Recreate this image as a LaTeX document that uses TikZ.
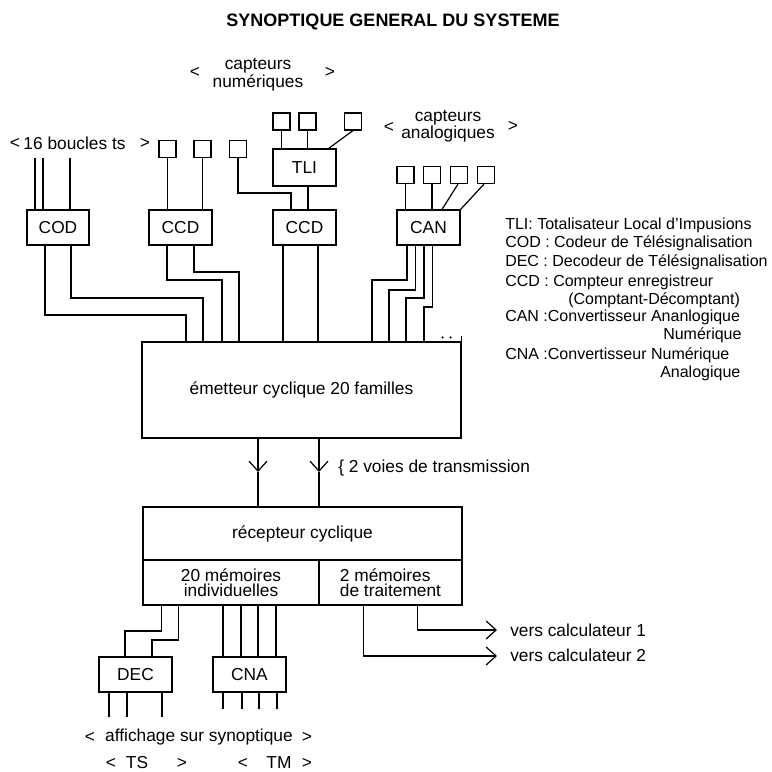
\documentclass[tikz,border=0pt]{standalone}
\usepackage{fontspec}
\setmainfont{Liberation Sans}
\usetikzlibrary{arrows.meta,calc}
\begin{document}
\begin{tikzpicture}[x=0.75pt,y=-0.75pt,
  every node/.style={inner sep=0pt},
  T/.style={font=\fontsize{13}{12}\selectfont},
  L/.style={font=\fontsize{12}{14}\selectfont, anchor=west},
  box/.style={draw, line width=0.9pt, font=\fontsize{13}{11.5}\selectfont},
  wh/.style 2 args={minimum width=#1*0.75pt, minimum height=#2*0.75pt},
  sq/.style={draw, line width=0.9pt, minimum size=17*0.75pt},
  wire/.style={line width=0.9pt},
  barb/.style={wire, -{Straight Barb[length=7.5pt,width=13.5pt,line width=0.9pt]}},
]
\useasboundingbox (0,0) rectangle (772,772);

% title
\node[font=\bfseries\fontsize{13.5}{15}\selectfont] (title) at (393,22) {SYNOPTIQUE GENERAL DU SYSTEME};

% capteurs numeriques
\node[T] (lt1) at (195,72) {<};
\node[T, align=center] (capnum) at (258,75) {capteurs\\numériques};
\node[T] (gt1) at (330,72) {>};
\node[sq] (n1) at (281.5,121.5) {};
\node[sq] (n2) at (307.5,121.5) {};
\node[sq] (n3) at (353,121.5) {};
\node[box, wh={63}{37}] (tli) at (304.5,167.5) {TLI};

% capteurs analogiques
\node[T] (lt2) at (389,127) {<};
\node[T, align=center] (capana) at (448,126) {capteurs\\analogiques};
\node[T] (gt2) at (513,126) {>};
\node[sq] (a1) at (405.5,175) {};
\node[sq] (a2) at (432,175) {};
\node[sq] (a3) at (459,175) {};
\node[sq] (a4) at (486,175) {};

% 16 boucles
\node[T] (lt0) at (15,143) {<};
\node[T] (boucles) at (74.5,143) {16 boucles ts};
\node[T] (gt0) at (145,143) {>};
\node[sq] (b1) at (167.5,149) {};
\node[sq] (b2) at (202.5,149) {};
\node[sq] (b3) at (238,149) {};

% first row of blocks
\node[box, wh={62}{35}] (cod) at (58,227.5) {COD};
\node[box, wh={63}{35}] (ccda) at (180.5,227.5) {CCD};
\node[box, wh={63}{35}] (ccdb) at (304.5,227.5) {CCD};
\node[box, wh={63}{35}] (can) at (428.5,227.5) {CAN};

% emitter / receiver
\node[box, wh={319}{96}] (emit) at (301.5,390) {émetteur cyclique 20 familles};
\node[box, wh={319}{53}] (rec) at (302.5,533.5) {récepteur cyclique};
\node[box, wh={176}{45}, align=center] (mema) at (231,582.5) {20 mémoires\\individuelles};
\node[box, wh={143}{45}, align=left] (memb) at (390.5,582.5) {2 mémoires\\de traitement};

% bottom blocks
\node[box, wh={73}{35}] (dec) at (135.5,674.5) {DEC};
\node[box, wh={73}{35}] (cna) at (249.5,674.5) {CNA};

% sensors -> TLI
\draw[wire] (n1.south) -- (n1.south |- tli.north);
\draw[wire] (n2.south) -- (n2.south |- tli.north);
\draw[wire] (n3.south) -- ($(tli.north east)+(-8,0)$);

% sensors -> CAN
\draw[wire] (a1.south) -- (a1.south |- can.north);
\draw[wire] (a2.south) -- (a2.south |- can.north);
\draw[wire] ($(a3.south)+(-1,0)$) -- ($(can.north)+(13.5,0)$);
\draw[wire] ($(a4.south)+(-2,0)$) -- (can.north east);

% inputs COD
\coordinate (i1) at (35,158); \coordinate (i2) at (43,158); \coordinate (i3) at (70,158);
\draw[wire] (i1) -- (i1 |- cod.north);
\draw[wire] (i2) -- (i2 |- cod.north);
\draw[wire] (i3) -- (i3 |- cod.north);

% inputs CCD
\draw[wire] (b1.south) -- (b1.south |- ccda.north);
\draw[wire] (b2.south) -- (b2.south |- ccda.north);
\coordinate (k0) at (291,193);
\draw[wire] (b3.south) |- (k0) -- (k0 |- ccdb.north);
\draw[wire] ($(tli.south)+(3.5,0)$) -- ($(ccdb.north)+(3.5,0)$);

% outputs -> emitter
\coordinate (k1) at (186,315); \coordinate (k2) at (203,298);
\coordinate (k3) at (222,280); \coordinate (k4) at (239,272);
\coordinate (k5) at (372,280); \coordinate (k6) at (389,290);
\coordinate (k7) at (406,298); \coordinate (k8) at (424,307);
\draw[wire] ($(cod.south)+(-13,0)$) |- (k1) -- (k1 |- emit.north);
\draw[wire] ($(cod.south)+(13,0)$) |- (k2) -- (k2 |- emit.north);
\draw[wire] ($(ccda.south)+(-13.5,0)$) |- (k3) -- (k3 |- emit.north);
\draw[wire] ($(ccda.south)+(13.5,0)$) |- (k4) -- (k4 |- emit.north);
\coordinate (e1) at (283,300); \coordinate (e2) at (318,300);
\draw[wire] (e1 |- ccdb.south) -- (e1 |- emit.north);
\draw[wire] (e2 |- ccdb.south) -- (e2 |- emit.north);
\draw[wire] ($(can.south)+(-21.5,0)$) |- (k5) -- (k5 |- emit.north);
\draw[wire] ($(can.south)+(-13,0)$) |- (k6) -- (k6 |- emit.north);
\draw[wire] ($(can.south)+(-4.5,0)$) |- (k7) -- (k7 |- emit.north);
\draw[wire] ($(can.south)+(4,0)$) |- (k8) -- (k8 |- emit.north);
\draw[wire] (emit.north east) -- ++(0,-5);
\fill ($(emit.north east)+(-19,-4)$) circle[radius=0.9pt];
\fill ($(emit.north east)+(-11,-4)$) circle[radius=0.9pt];

% transmission
\coordinate (t1) at (258,472); \coordinate (t2) at (319,472);
\draw[barb] (t1 |- emit.south) -- (t1);
\draw[wire] (t1) -- (t1 |- rec.north);
\draw[barb] (t2 |- emit.south) -- (t2);
\draw[wire] (t2) -- (t2 |- rec.north);
\node[T, anchor=west] (voies) at (338,468) {\{ 2 voies de transmission};

% receiver -> DEC
\coordinate (d1) at (125,631); \coordinate (d2) at (152,640);
\draw[wire] ($(mema.south west)+(19,0)$) |- (d1) -- (d1 |- dec.north);
\draw[wire] ($(mema.south west)+(36,0)$) |- (d2) -- (d2 |- dec.north);

% receiver -> CNA
\coordinate (m1) at (223,630); \coordinate (m2) at (241,630);
\coordinate (m3) at (258,630); \coordinate (m4) at (276,630);
\draw[wire] (m1 |- mema.south) -- (m1 |- cna.north);
\draw[wire] (m2 |- mema.south) -- (m2 |- cna.north);
\draw[wire] (m3 |- mema.south) -- (m3 |- cna.north);
\draw[wire] (m4 |- mema.south) -- (m4 |- cna.north);

% vers calculateurs
\coordinate (v1) at (497,630); \coordinate (v2) at (497,656);
\draw[barb] ($(memb.south west)+(99,0)$) |- (v1);
\draw[barb] ($(memb.south west)+(45,0)$) |- (v2);
\node[T, anchor=west] (vc1) at (510,630) {vers calculateur 1};
\node[T, anchor=west] (vc2) at (510,655) {vers calculateur 2};

% DEC / CNA outputs
\coordinate (o1) at (109,717); \coordinate (o2) at (127,717); \coordinate (o3) at (162,717);
\draw[wire] (o1 |- dec.south) -- (o1);
\draw[wire] (o2 |- dec.south) -- (o2);
\draw[wire] (o3 |- dec.south) -- (o3);
\coordinate (p1) at (223,709); \coordinate (p2) at (242,709);
\coordinate (p3) at (259,709); \coordinate (p4) at (277,709);
\draw[wire] (p1 |- cna.south) -- (p1);
\draw[wire] (p2 |- cna.south) -- (p2);
\draw[wire] (p3 |- cna.south) -- (p3);
\draw[wire] (p4 |- cna.south) -- (p4);

% bottom labels
\node[T] (lt3) at (90,737) {<};
\node[T] (aff) at (199,737) {affichage sur synoptique};
\node[T] (gt3) at (307,737) {>};
\node[T] (lt4) at (111,763) {<};
\node[T] (ts) at (137,763) {TS};
\node[T] (gt4) at (182,763) {>};
\node[T] (lt5) at (243,763) {<};
\node[T] (tm) at (279,763) {TM};
\node[T] (gt5) at (307,763) {>};

% legend
\node[L] (lg1) at (505,225) {TLI: Totalisateur Local d'Impusions};
\node[L] (lg2) at (505,243) {COD : Codeur de Télésignalisation};
\node[L] (lg3) at (505,262) {DEC : Decodeur de Télésignalisation};
\node[L] (lg4) at (505,282) {CCD : Compteur enregistreur};
\node[L] (lg5) at (568,300) {(Comptant-Décomptant)};
\node[L] (lg6) at (505,317) {CAN :Convertisseur Ananlogique};
\node[L] (lg7) at (663,335) {Numérique};
\node[L] (lg8) at (505,355) {CNA :Convertisseur Numérique};
\node[L] (lg9) at (660,373) {Analogique};
\end{tikzpicture}
\end{document}
